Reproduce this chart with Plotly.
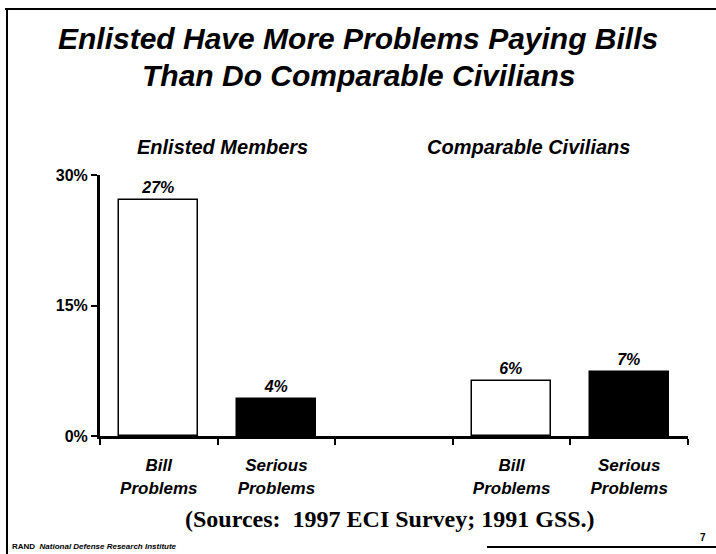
import plotly.graph_objects as go

# data
groups = ["Enlisted Members", "Comparable Civilians"]
categories = ["Bill<br>Problems", "Serious<br>Problems", "", "Bill<br>Problems", "Serious<br>Problems"]
slots = [0, 1, 2, 3, 4]
bar_slots = [0, 1, 3, 4]
values = [27.1, 4.2, 6.3, 7.4]
value_labels = ["27%", "4%", "6%", "7%"]
bar_colors = ["white", "black", "white", "black"]
y_ticks = [0, 15, 30]
y_ticktext = ["0%", "15%", "30%"]

W, H = 716, 554
L, R, T, B = 100, 28, 175, 118


def px(x):
    return (x - L) / (W - L - R)


def py(y):
    return 1 - (y - T) / (H - T - B)


SANS = "Liberation Sans"

fig = go.Figure()
fig.add_trace(go.Bar(
    x=bar_slots, y=values, width=0.67,
    marker=dict(color=bar_colors, line=dict(color="black", width=1.5)),
    text=value_labels, textposition="outside",
    textfont=dict(family=SANS, size=16, color="black", weight="bold", style="italic"),
    cliponaxis=False, hoverinfo="skip",
))

fig.update_layout(
    width=W, height=H,
    margin=dict(l=L, r=R, t=T, b=B),
    paper_bgcolor="white", plot_bgcolor="white",
    showlegend=False,
    bargap=0,
    xaxis=dict(
        range=[-0.5, 4.5], tickmode="array", tickvals=slots, ticktext=categories,
        ticks="", showgrid=False, zeroline=False, ticklabelstandoff=12,
        showline=True, linecolor="black", linewidth=3,
        tickfont=dict(family=SANS, size=17, color="black", weight="bold", style="italic"),
        minor=dict(tickmode="array", tickvals=[-0.5, 0.5, 1.5, 2.5, 3.5, 4.5],
                   ticks="outside", ticklen=6, tickwidth=2, tickcolor="black"),
    ),
    yaxis=dict(
        range=[0, 30], tickmode="array", tickvals=y_ticks, ticktext=y_ticktext,
        ticks="outside", ticklen=6, tickwidth=2, tickcolor="black",
        showgrid=False, zeroline=False,
        showline=True, linecolor="black", linewidth=3,
        tickfont=dict(family=SANS, size=16, color="black", weight="bold"),
    ),
)


def note(text, x, y, size, family=SANS, anchor="center", **font):
    fig.add_annotation(x=px(x), y=py(y), xref="paper", yref="paper", showarrow=False,
                       xanchor=anchor, yanchor="middle", text=text,
                       font=dict(family=family, size=size, color="black", **font))


# title and group headings
note("Enlisted Have More Problems Paying Bills", 358, 38, 30, weight="bold", style="italic")
note("Than Do Comparable Civilians", 358, 76, 30, weight="bold", style="italic")
for name, cx in zip(groups, [222, 528]):
    note(name, cx, 147, 20, weight="bold", style="italic")

note("(Sources:  1997 ECI Survey; 1991 GSS.)", 390, 519, 24,
     family="Liberation Serif", weight="bold")
note("<b>RAND</b>  <b><i>National Defense Research Institute</i></b>", 10, 546, 8, anchor="left")
note("<b>7</b>", 703, 537, 10)

# slide frame
frame = [(5, 9, 716, 9), (7, 9, 7, 554), (487, 547, 716, 547)]
for x0, y0, x1, y1 in frame:
    fig.add_shape(type="line", xref="paper", yref="paper",
                  x0=px(x0), y0=py(y0), x1=px(x1), y1=py(y1),
                  line=dict(color="black", width=2))

fig.write_html("out.html", config={"displayModeBar": False},
               post_script="document.body.style.margin='0';")
